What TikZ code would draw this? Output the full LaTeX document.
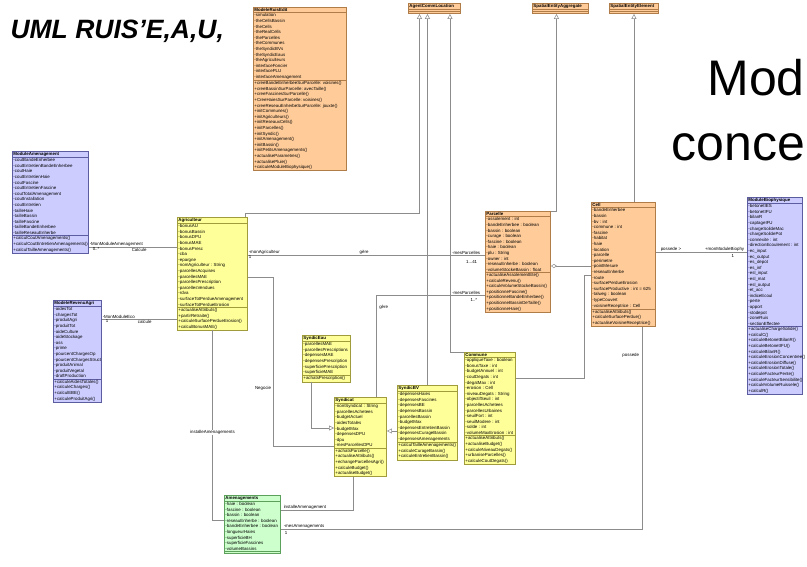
\documentclass[tikz,border=0pt]{standalone}
\usepackage{fontspec}
\setmainfont{Liberation Sans}
\usetikzlibrary{shapes.multipart,arrows.meta}
\definecolor{orangefill}{HTML}{FFCC99}
\definecolor{orangeline}{HTML}{B07C48}
\definecolor{jaunefill}{HTML}{FFFF99}
\definecolor{jauneline}{HTML}{A09C3C}
\definecolor{bleufill}{HTML}{CCCCFF}
\definecolor{bleuline}{HTML}{5C5CA0}
\definecolor{vertfill}{HTML}{CCFFCC}
\definecolor{vertline}{HTML}{5CA05C}
\definecolor{lienc}{HTML}{8C8C8C}
\newcommand\umlfont{\fontsize{4.4}{5.6}\selectfont\hyphenpenalty=10000\exhyphenpenalty=10000}
\tikzset{
  classe/.style={rectangle split, rectangle split parts=3,
    rectangle split part align={center,left,left},
    rectangle split empty part height=2.5pt,
    anchor=north west, font=\umlfont, inner xsep=1.2pt, inner ysep=0.8pt, line width=0.5pt},
  classeorange/.style={classe, fill=orangefill, draw=orangeline},
  classejaune/.style={classe, fill=jaunefill, draw=jauneline},
  classebleue/.style={classe, fill=bleufill, draw=bleuline},
  classeverte/.style={classe, fill=vertfill, draw=vertline},
  lien/.style={draw=lienc, line width=0.5pt},
  herite/.style={lien, -{Triangle[open,length=5pt,width=5pt]}},
  lbl/.style={font=\umlfont, inner sep=0.6pt},
}
\begin{document}
\begin{tikzpicture}[x=1pt,y=-1pt]
\useasboundingbox (0,0) rectangle (807,566);
\fill[white] (0,0) rectangle (807,566);

\node[anchor=base west, font=\bfseries\itshape\fontsize{26.5}{26.5}\selectfont] (titre) at (7,38) {UML RUIS’E,A,U,};
\node[anchor=base west, font=\fontsize{50}{50}\selectfont] (mod) at (704,95) {Mod};
\node[anchor=base west, font=\fontsize{50}{50}\selectfont] (concep) at (668,160) {concep};

\node[classeorange, text width=91pt] (ruis) at (253,7) {\textbf{ModeleRuisEdit}
\nodepart{second}-simulation\\-theCellsBassin\\-theCells\\-theRealCells\\-theParcelles\\-theCommunes\\-theSyndicBVs\\-theSyndicEaus\\-theAgriculteurs\\-interfaceFoncier\\-interfacePLU\\-interfaceAmenagement
\nodepart{third}+creeBandeEnherbeeSurParcelle:~voisines()\\+creeBassinSurParcelle:~avecTaille()\\+creeFascinesSurParcelle()\\+CreeHaiesSurParcelle:~voisines()\\+creeReseauEnherbeSurParcelle:~jouxte()\\+initCommunes()\\+initAgriculteurs()\\+initReseauxCells()\\+initParcelles()\\+initSyndic()\\+initAmenagement()\\+initBassin()\\+initPetitsAmenagements()\\+actualiseParametres()\\+actualisePluie()\\+calculeModuleBiophysique()};

\node[classeorange, text width=50pt] (agentcomm) at (408,3) {\textbf{AgentCommLocation}\nodepart{second}\nodepart{third}};
\node[classeorange, text width=54pt] (sea) at (532,3) {\textbf{SpatialEntityAggregate}\nodepart{second}\nodepart{third}};
\node[classeorange, text width=47pt] (see) at (609,3) {\textbf{SpatialEntityElement}\nodepart{second}\nodepart{third}};

\node[classebleue, text width=74pt] (modam) at (12,151) {\textbf{ModuleAmenagement}
\nodepart{second}-coutBandeEnherbee\\-coutEntretienBandeEnherbee\\-coutHaie\\-coutEntretienHaie\\-coutFascine\\-coutEntretienFascine\\-coutTotalAmenagement\\-coutInstallation\\-coutEntretien\\-tailleHaie\\-tailleBassin\\-tailleFascine\\-tailleBandeEnherbee\\-tailleReseauEnherbe
\nodepart{third}+calculCoutAmenagements()\\+calculCoutEntretienAmenagements()\\+calculTailleAmenagements()};

\node[classebleue, text width=46pt] (revenu) at (53,300) {\textbf{ModeleRevenuAgri}
\nodepart{second}-aidesTot\\-chargesTot\\-produitAgri\\-produitTot\\-aideCulture\\-aideStockage\\-ass\\-prime\\-pourcentChargesOp\\-pourcentChargesStruct\\-produitAnimal\\-produitVegetal\\-draftProduction
\nodepart{third}+calculeAidesTotales()\\+calculeCharges()\\+calculEBE()\\+calculeProduitAgri()};

\node[classejaune, text width=68pt] (agri) at (177,217) {\textbf{Agriculteur}
\nodepart{second}-bonusAU\\-bonusBassin\\-bonusDPU\\-bonusMAE\\-bonusPresc\\-cba\\-epargne\\-nomAgriculteur~:~String\\-parcellesAcquises\\-parcellesMAE\\-parcellesPrescription\\-parcellesVendues\\-rdva\\-surfaceTotPerdueAmenagement\\-surfaceTotPerdueErosion
\nodepart{third}+actualiseAttributs()\\+partirRetraite()\\+calculeSurfacePerdueErosion()\\+calculBonusMAE()};

\node[classeorange, text width=63pt] (parcelle) at (485,211) {\textbf{Parcelle}
\nodepart{second}-assolement~:~int\\-bandeEnherbee~:~boolean\\-bassin~:~boolean\\-curage~:~boolean\\-fascine~:~boolean\\-haie~:~boolean\\-plu~:~String\\-owner~:~int\\-reseauEnherbe~:~boolean\\-volumeStockeBassin~:~float
\nodepart{third}+actualiseAssolementEte()\\+calculeRevenu()\\+calculeVolumeStockeBassin()\\+positionneFascine()\\+positionneBandeEnherbee()\\+positionneBassinDeTaille()\\+positionneHaie()};

\node[classeorange, text width=62pt] (cell) at (591,202) {\textbf{Cell}
\nodepart{second}-bandeEnherbee\\-bassin\\-bv~:~int\\-commune~:~int\\-fascine\\-habitat\\-haie\\-location\\-parcelle\\-perimetre\\-pointMesure\\-reseauEnherbe\\-route\\-surfacePerdueErosion\\-surfaceProductive~:~int~=~625\\-talweg~:~boolean\\-typeCouvert\\-voisineReceptrice~:~Cell
\nodepart{third}+actualiseAttributs()\\+calculeSurfacePerdue()\\+actualiseVoisineReceptrice()};

\node[classebleue, text width=53pt] (modbio) at (747,197) {\textbf{ModuleBiophysique}
\nodepart{second}-betonetIES\\-betonetIFU\\-bilanR\\-captageIFU\\-chargeSolideMac\\-chargeSolidePot\\-connexite~:~int\\-directionEcoulement~:~int\\-ec\_input\\-ec\_output\\-es\_depot\\-es\_inf\\-esl\_input\\-esl\_mat\\-esl\_output\\-et\_acc\\-indiceEcoul\\-perte\\-apport\\-stodepot\\-zoneRuis\\-sectionEffectee
\nodepart{third}+actualiseChargeSolide()\\+calculC()\\+calculeBetonetBilanR()\\+calculeBetonetIFU()\\+calculeBilanR()\\+calculeErosionConcentree()\\+calculeErosionDiffuse()\\+calculeErosionTotale()\\+calculeFacteurPente()\\+calculeFacteurSensibilite()\\+calculeVolumeRuissele()\\+calculR()};

\node[classejaune, text width=46pt] (syndiceau) at (302,335) {\textbf{SyndicEau}
\nodepart{second}-parcellesMAE\\-parcellesPrescriptions\\-depensesMAE\\-depensesPrescription\\-superficiePrescription\\-superficieMAE
\nodepart{third}+achatsPrescription()};

\node[classejaune, text width=50pt] (syndicat) at (334,397) {\textbf{Syndicat}
\nodepart{second}-nomSyndicat~:~String\\-parcellesAchetees\\-budgetActuel\\-aidesTotales\\-budgetMax\\-depensesDPU\\-dpu\\-mesParcellesDPU
\nodepart{third}+achatsParcelle()\\+actualiseAttributs()\\+echangeParcellesAgri()\\+calculeBudget()\\+actualiseBudget()};

\node[classejaune, text width=58pt] (syndicbv) at (397,385) {\textbf{SyndicBV}
\nodepart{second}-depensesHaies\\-depensesFascines\\-depensesBE\\-depensesBassin\\-parcellesBassin\\-budgetMax\\-depensesEntretienBassin\\-depensesCurageBassin\\-depensesAmenagements
\nodepart{third}+calculTailleAmenagements()\\+calculeCurageBassin()\\+calculeEntretienBassin()};

\node[classejaune, text width=49pt] (commune) at (464,352) {\textbf{Commune}
\nodepart{second}-appliqueTaxe~:~boolean\\-bonusTaxe~:~int\\-budgetAnnuel~:~int\\-coutDegats~:~int\\-degatMax~:~int\\-erosion~:~Cell\\-niveauDegats~:~String\\-objectifSeuil~:~int\\-parcellesAchetees\\-parcellesUrbaines\\-seuilFort~:~int\\-seuilModere~:~int\\-solde~:~int\\-volumeMaxErosion~:~int
\nodepart{third}+actualiseAttributs()\\+actualiseBudget()\\+calculeNiveauDegats()\\+urbaniseParcelles()\\+calculeCoutDegats()};

\node[classeverte, text width=54pt] (amen) at (224,495) {\textbf{Amenagements}
\nodepart{second}-haie~:~boolean\\-fascine~:~boolean\\-bassin~:~boolean\\-reseauEnherbe~:~boolean\\-bandeEnherbee~:~boolean\\-longueurHaies\\-superficieBH\\-superficieFascines\\-volumeBassins
\nodepart{third}};

\draw[herite] ([xshift=-3]agri.north east) -- ++(0,-4) -| ([xshift=-15]agentcomm.south);
\draw[herite] (syndicbv.north) -- (syndicbv.north |- agentcomm.south);
\draw[herite] (commune.north west) -| ([xshift=15.5]agentcomm.south);
\draw[herite] (parcelle.north east) -| ([xshift=-4]sea.south);
\draw[herite] (see.south |- cell.north) -- (see.south);
\draw[herite] ([xshift=-15]syndiceau.south) |- (syndicat.west |- 0,428);
\draw[herite] (syndicbv.west |- 0,431) -- (syndicat.east |- 0,431);

\draw[lien] (modam.east |- 0,247) -- node[lbl, pos=0, anchor=south west] {-MonModuleAmenagement} node[lbl, pos=0, anchor=north west, xshift=3] {0..*} node[lbl, pos=0.57, below] {Calcule} (agri.west |- 0,247);
\draw[lien] (revenu.east |- 0,319) -- node[lbl, pos=0, anchor=south west] {-MonModuleEco} node[lbl, pos=0, anchor=north west, xshift=3] {1} node[lbl, pos=0.57, below] {calcule} (agri.west |- 0,319);
\draw[lien] (agri.east |- 0,255) -- node[lbl, pos=0, anchor=south west] {-monAgriculteur} node[lbl, pos=0, anchor=north west] {1} node[lbl, pos=0.49, above] {gère} node[lbl, pos=1, anchor=south east, xshift=-4] {-mesParcelles} node[lbl, pos=1, anchor=north east, xshift=-7, yshift=-5] {1...41} (parcelle.west |- 0,255);
\draw[lien] ([xshift=16]syndicat.north) |- node[lbl, pos=0.44, anchor=west, xshift=2] {gère} node[lbl, pos=1, anchor=south east, xshift=-4] {-mesParcelles} node[lbl, pos=1, anchor=north east, xshift=-7, yshift=-3] {1..*} (parcelle.west |- 0,295);
\draw[lien] (agri.east |- 0,277) -- (273,277) |- node[lbl, pos=0.33, anchor=east, xshift=-1] {Negocie} (syndicat.west |- 0,446);
\draw[lien, {Diamond[open,length=6pt,width=4pt]}-] (parcelle.east |- 0,266) -- (cell.west |- 0,266);
\draw[lien] (cell.west |- 0,275) -- (584,275) |- (commune.east |- 0,378);
\draw[lien] (cell.east |- 0,252) -- node[lbl, pos=0, anchor=south west, xshift=4] {possede >} node[lbl, pos=1, anchor=south east, xshift=-2] {+monModuleBiophy} node[lbl, pos=1, anchor=north east, xshift=-12, yshift=-2] {1} (modbio.west |- 0,252);
\draw[lien] ([xshift=18.5]cell.south) |- node[lbl, pos=0.07, anchor=east, xshift=-2] {possede} node[lbl, pos=1, anchor=south west, xshift=2] {-mesAmenagements} node[lbl, pos=1, anchor=north west, xshift=3, yshift=-2] {1} (amen.east |- 0,529);
\draw[lien] ([xshift=-7.5]syndicat.south) |- node[lbl, pos=1, anchor=south west, xshift=2] {installeAmenagement} (amen.east |- 0,510);
\draw[lien] (agri.south) |- node[lbl, pos=0.27, fill=white] {installeAmenagements} (amen.west |- 0,520);
\end{tikzpicture}
\end{document}
